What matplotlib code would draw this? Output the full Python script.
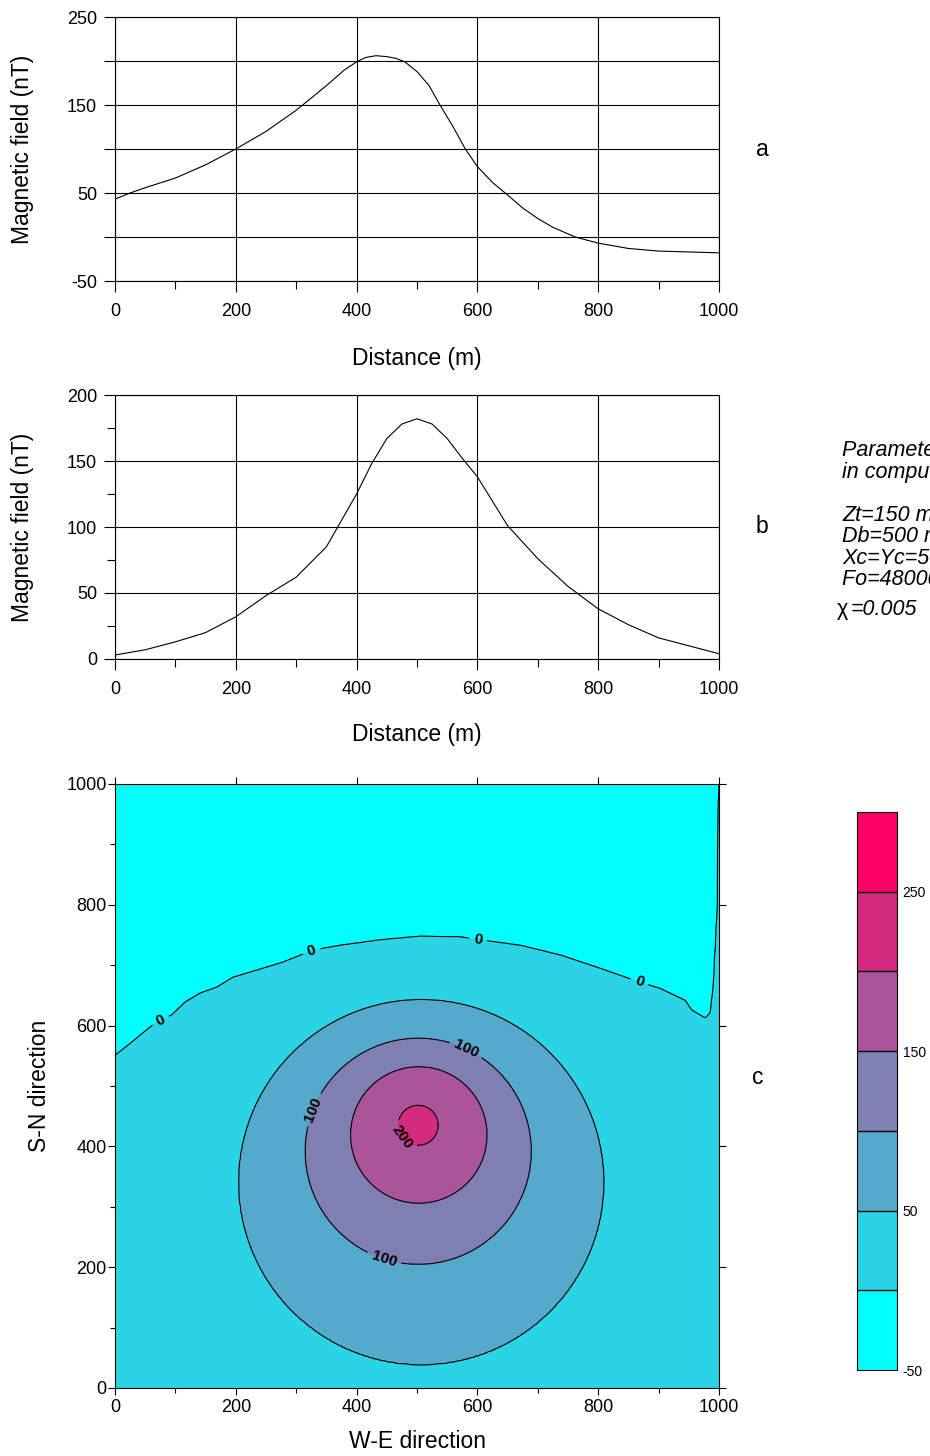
import numpy as np
import matplotlib
matplotlib.use('Agg')
import matplotlib.pyplot as plt
from matplotlib.path import Path
from matplotlib.ticker import MultipleLocator, FuncFormatter

plt.rcParams['font.family'] = ['Liberation Sans', 'DejaVu Sans']
plt.rcParams['axes.unicode_minus'] = False

# profile a (distance m, field nT)
dist_a = [0, 25, 50, 100, 150, 200, 250, 300, 350, 380, 400, 415, 432, 450, 465, 480, 500,
          520, 538, 560, 580, 600, 625, 646, 675, 700, 725, 762, 800, 850, 900, 950, 1000]
field_a = [43, 50, 56, 67, 82, 100, 120, 144, 172, 190, 199, 204, 206, 205, 203, 199, 188,
           172, 150, 125, 100, 80, 62, 50, 33, 21, 11, 0, -7, -13, -16, -17, -18]

# profile b
dist_b = [0, 50, 100, 150, 200, 250, 300, 350, 400, 425, 450, 475, 500, 525, 550, 575, 600,
          650, 700, 750, 800, 850, 900, 950, 1000]
field_b = [3, 7, 13, 20, 32, 48, 62, 85, 125, 148, 167, 178, 182, 178, 167, 152, 138,
           101, 76, 55, 38, 26, 16, 10, 4]

# map c: zero contour line (m)
zero_x = [0, 28, 46, 66, 94, 116, 141, 169, 195, 235, 278, 328, 373, 439, 505, 571, 604,
          671, 737, 803, 869, 902, 944, 955, 977, 985, 990, 997, 998, 1000]
zero_y = [551, 573, 588, 604, 618, 639, 654, 664, 680, 692, 705, 725, 733, 742, 748, 747, 742,
          733, 717, 695, 672, 662, 642, 626, 613, 621, 664, 803, 969, 1000]
# closed contours around the anomaly: level, centre, radius (m)
ring_levels = [50, 100, 150, 200]
ring_cx = [507, 502, 503, 502]
ring_cy = [341, 392, 419, 435]
ring_r = [302, 187, 113, 33]
peak_value = 225

fill_levels = [-50, 0, 50, 100, 150, 200, 250, 300]
fill_colors = ['#00FFFF', '#2AD4E5', '#55AACC', '#7F7FB2', '#AA5599', '#D42A7F', '#FF0066']
cbar_ticks = [-50, 50, 150, 250]
label_pos = [(75, 609), (326, 722), (601, 743), (869, 674),
             (331, 460), (581, 560), (445, 212), (480, 419)]

# build the grid from the read contours
xg = np.linspace(0, 1000, 401)
yg = np.linspace(0, 1000, 401)
X, Y = np.meshgrid(xg, yg)
px = X.ravel()
py = Y.ravel()
d = np.full(px.shape, 1e9)
for i in range(len(zero_x) - 1):
    x0, y0, x1, y1 = zero_x[i], zero_y[i], zero_x[i + 1], zero_y[i + 1]
    dx, dy = x1 - x0, y1 - y0
    t = np.clip(((px - x0) * dx + (py - y0) * dy) / (dx * dx + dy * dy), 0, 1)
    d = np.minimum(d, np.hypot(px - (x0 + t * dx), py - (y0 + t * dy)))
poly = list(zip(zero_x, zero_y)) + [(1010, 1000), (1010, -10), (-10, -10), (-10, zero_y[0])]
inside = Path(poly).contains_points(np.column_stack([px, py]))
s0 = np.where(inside, d, -d).reshape(X.shape)

s = [s0] + [r - np.hypot(X - cx, Y - cy) for cx, cy, r in zip(ring_cx, ring_cy, ring_r)]
lv = [0] + ring_levels
Z = np.clip(0.3 * s0, -45, 0)
for i in range(len(lv) - 1):
    m = (s[i] >= 0) & (s[i + 1] < 0)
    Z[m] = lv[i] + (lv[i + 1] - lv[i]) * s[i][m] / (s[i][m] - s[i + 1][m])
m = s[-1] >= 0
Z[m] = lv[-1] + (peak_value - lv[-1]) * s[-1][m] / ring_r[-1]

W, H = 930, 1456
fig = plt.figure(figsize=(W / 100, H / 100), dpi=100)


def box(l, t, r, b):
    return [l / W, 1 - b / H, (r - l) / W, (b - t) / H]


def profile_axes(ax, x, y, ymin, ymax, minor):
    ax.plot(x, y, color='k', lw=0.8)
    ax.set_xlim(0, 1000)
    ax.set_ylim(ymin, ymax)
    ax.xaxis.set_major_locator(MultipleLocator(200))
    ax.xaxis.set_minor_locator(MultipleLocator(100))
    ax.yaxis.set_major_locator(MultipleLocator(50))
    if minor:
        ax.yaxis.set_minor_locator(MultipleLocator(25))
    ax.grid(True, which='major', color='k', lw=0.8)
    ax.tick_params(which='major', direction='out', length=8, width=0.8, labelsize=13, pad=5)
    ax.tick_params(axis='x', which='major', pad=8)
    ax.tick_params(which='minor', direction='out', length=5.5, width=0.8)
    for sp in ax.spines.values():
        sp.set_linewidth(0.8)


axa = fig.add_axes(box(115, 17, 719, 281))
profile_axes(axa, dist_a, field_a, -50, 250, False)
axa.yaxis.set_major_formatter(FuncFormatter(lambda v, p: '%d' % v if v % 100 == 50 else ''))

axb = fig.add_axes(box(115, 395, 719, 659))
profile_axes(axb, dist_b, field_b, 0, 200, True)

axc = fig.add_axes(box(115, 784, 719, 1388))
cf = axc.contourf(X, Y, Z, levels=fill_levels, colors=fill_colors)
axc.contour(X, Y, Z, levels=[50, 150], colors='k', linewidths=0.8)
cs = axc.contour(X, Y, Z, levels=[0, 100, 200], colors='k', linewidths=0.8)
labels = axc.clabel(cs, fmt='%d', fontsize=11, manual=label_pos, inline=True)
for t in labels:
    t.set_fontweight('bold')
axc.set_xlim(0, 1000)
axc.set_ylim(0, 1000)
axc.xaxis.set_major_locator(MultipleLocator(200))
axc.xaxis.set_minor_locator(MultipleLocator(100))
axc.yaxis.set_major_locator(MultipleLocator(200))
axc.yaxis.set_minor_locator(MultipleLocator(100))
axc.tick_params(which='major', direction='out', length=5, width=0.8, labelsize=13, pad=1,
                top=True, right=True)
axc.tick_params(axis='x', which='major', pad=3)
axc.tick_params(which='minor', direction='out', length=3.5, width=0.8)
for sp in axc.spines.values():
    sp.set_linewidth(0.8)

cax = fig.add_axes(box(857, 812, 897, 1370))
cb = fig.colorbar(cf, cax=cax, ticks=cbar_ticks, drawedges=True)
cb.ax.tick_params(length=0, labelsize=10, pad=4)
cb.outline.set_linewidth(0.8)
cb.dividers.set_color('k')
cb.dividers.set_linewidth(1)

# labels
fig.text(417 / W, 1 - 358 / H, 'Distance (m)', ha='center', va='center', fontsize=16.5)
fig.text(417 / W, 1 - 735 / H, 'Distance (m)', ha='center', va='center', fontsize=16.5)
fig.text(417 / W, 1 - 1442 / H, 'W-E direction', ha='center', va='center', fontsize=16.5)
fig.text(22 / W, 1 - 149 / H, 'Magnetic field (nT)', ha='center', va='center', rotation=90, fontsize=16.5)
fig.text(22 / W, 1 - 527 / H, 'Magnetic field (nT)', ha='center', va='center', rotation=90, fontsize=16.5)
fig.text(40 / W, 1 - 1086 / H, 'S-N direction', ha='center', va='center', rotation=90, fontsize=16.5)
fig.text(762 / W, 1 - 150 / H, 'a', ha='center', va='center', fontsize=16.5)
fig.text(762 / W, 1 - 526 / H, 'b', ha='center', va='center', fontsize=16.5)
fig.text(758 / W, 1 - 1077 / H, 'c', ha='center', va='center', fontsize=16.5)

# parameter block, running past the right edge as in the original
params = [('Parameters used', 451), ('in computation', 473), ('Zt=150 m', 515),
          ('Db=500 m', 537), ('Xc=Yc=500 m', 558), ('Fo=48000 nT', 580)]
for txt, yy in params:
    fig.text(842 / W, 1 - yy / H, txt, ha='left', va='center', fontsize=15.5, style='italic')
fig.text(837 / W, 1 - 609 / H, 'χ', ha='left', va='center', fontsize=15.5)
fig.text(851 / W, 1 - 609 / H, '=0.005', ha='left', va='center', fontsize=15.5, style='italic')

plt.savefig('out.png', dpi=100)
